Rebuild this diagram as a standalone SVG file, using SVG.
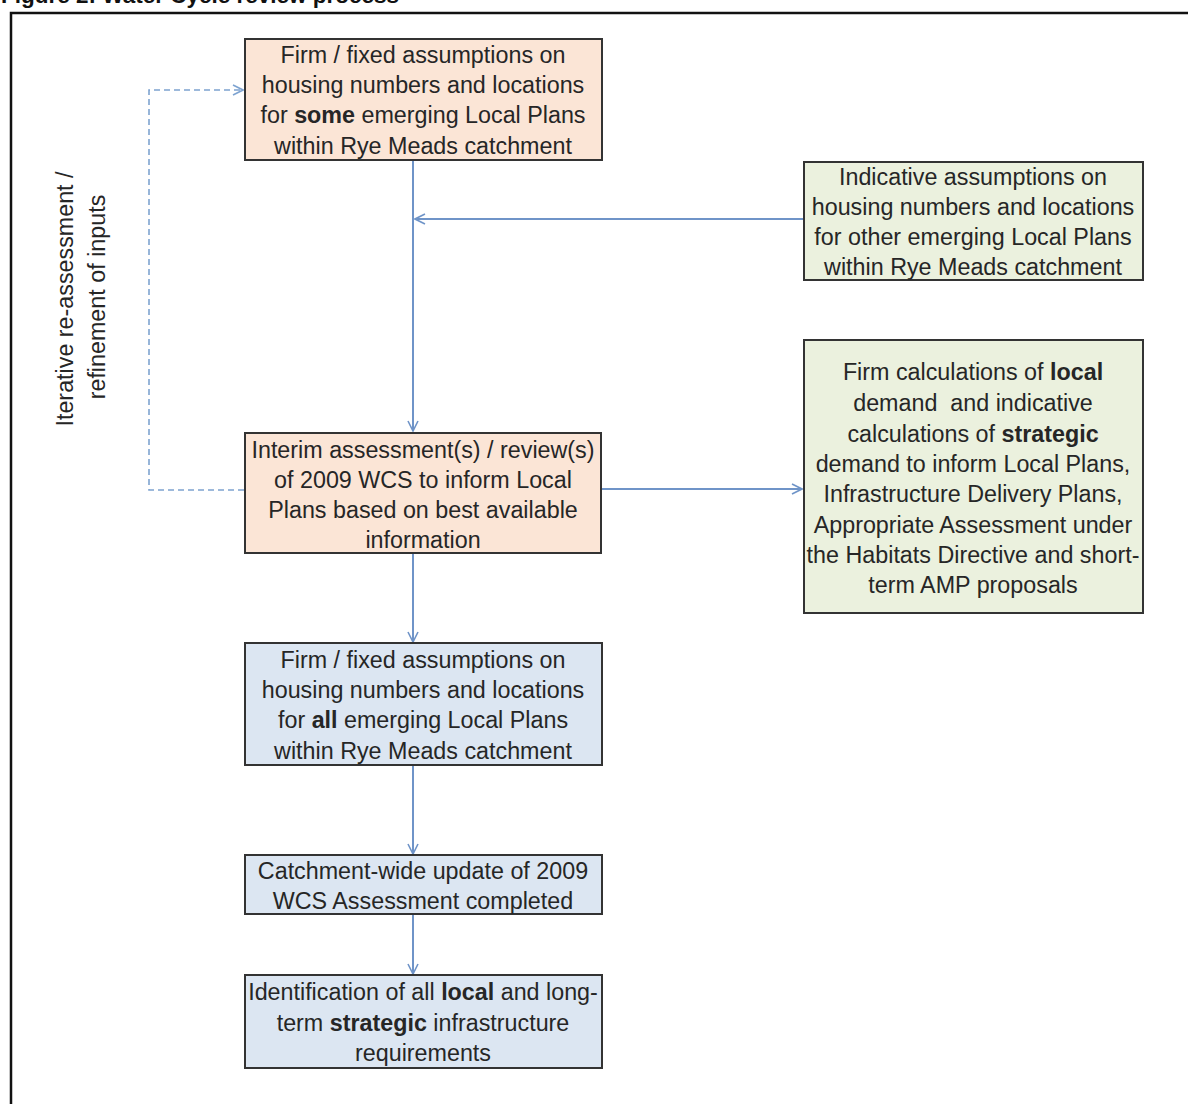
<svg xmlns="http://www.w3.org/2000/svg" width="1188" height="1104" viewBox="0 0 1188 1104">
<style>
.t{font-family:"Liberation Sans",Arial,sans-serif;font-size:23.3px;fill:#262626;text-anchor:middle}
.b{font-weight:bold}
.box{stroke:#333;stroke-width:2}
.or{fill:#fbe5d6}
.gr{fill:#ebf1de}
.bl{fill:#dce6f2}
.c{fill:none;stroke:#6f94c8;stroke-width:2}
.d{fill:none;stroke:#7ea3d0;stroke-width:1.6;stroke-dasharray:6,4}
</style>
<defs>
<marker id="ah" viewBox="0 0 12 12" refX="11" refY="6" markerWidth="12" markerHeight="12" markerUnits="userSpaceOnUse" orient="auto">
<path d="M1,1 L11,6 L1,11" fill="none" stroke="#6f94c8" stroke-width="1.6"/>
</marker>
<marker id="ahd" viewBox="0 0 12 12" refX="11" refY="6" markerWidth="12" markerHeight="12" markerUnits="userSpaceOnUse" orient="auto">
<path d="M1,1 L11,6 L1,11" fill="none" stroke="#7ea3d0" stroke-width="1.6"/>
</marker>
</defs>
<rect width="1188" height="1104" fill="#fff"/>
<text x="1" y="3" style="font-family:'Liberation Sans',Arial,sans-serif;font-size:22.5px;font-weight:bold;fill:#111">Figure 2: Water Cycle review process</text>
<path d="M11,1104 V13 H1188" fill="none" stroke="#111" stroke-width="2.5"/>

<g id="connectors">
<line class="c" x1="413" y1="161" x2="413" y2="431" marker-end="url(#ah)"/>
<line class="c" x1="804" y1="219" x2="415" y2="219" marker-end="url(#ah)"/>
<line class="c" x1="602" y1="489" x2="802" y2="489" marker-end="url(#ah)"/>
<line class="c" x1="413" y1="554" x2="413" y2="642" marker-end="url(#ah)"/>
<line class="c" x1="413" y1="766" x2="413" y2="854" marker-end="url(#ah)"/>
<line class="c" x1="413" y1="915" x2="413" y2="974" marker-end="url(#ah)"/>
<path class="d" d="M244,490 H149 V90 H243" marker-end="url(#ahd)"/>
</g>

<g id="label-iterative">
<text class="t" transform="translate(73,299) rotate(-90)">Iterative re-assessment /</text>
<text class="t" transform="translate(105,297) rotate(-90)">refinement of inputs</text>
</g>

<g id="n1">
<rect class="box or" x="245" y="39" width="357" height="121"/>
<text class="t" x="423" y="63">Firm / fixed assumptions on</text>
<text class="t" x="423" y="93">housing numbers and locations</text>
<text class="t" x="423" y="123">for <tspan class="b">some</tspan> emerging Local Plans</text>
<text class="t" x="423" y="154">within Rye Meads catchment</text>
</g>

<g id="n2">
<rect class="box gr" x="804" y="162" width="339" height="118"/>
<text class="t" x="973" y="185">Indicative assumptions on</text>
<text class="t" x="973" y="215">housing numbers and locations</text>
<text class="t" x="973" y="245">for other emerging Local Plans</text>
<text class="t" x="973" y="275">within Rye Meads catchment</text>
</g>

<g id="n3">
<rect class="box or" x="245" y="433" width="356" height="120"/>
<text class="t" x="423" y="458">Interim assessment(s) / review(s)</text>
<text class="t" x="423" y="488">of 2009 WCS to inform Local</text>
<text class="t" x="423" y="518">Plans based on best available</text>
<text class="t" x="423" y="548">information</text>
</g>

<g id="n4">
<rect class="box gr" x="804" y="340" width="339" height="273"/>
<text class="t" x="973" y="380">Firm calculations of <tspan class="b">local</tspan></text>
<text class="t" x="973" y="411" xml:space="preserve">demand  and indicative</text>
<text class="t" x="973" y="442">calculations of <tspan class="b">strategic</tspan></text>
<text class="t" x="973" y="472">demand to inform Local Plans,</text>
<text class="t" x="973" y="502">Infrastructure Delivery Plans,</text>
<text class="t" x="973" y="533">Appropriate Assessment under</text>
<text class="t" x="973" y="563">the Habitats Directive and short-</text>
<text class="t" x="973" y="593">term AMP proposals</text>
</g>

<g id="n5">
<rect class="box bl" x="245" y="643" width="357" height="122"/>
<text class="t" x="423" y="668">Firm / fixed assumptions on</text>
<text class="t" x="423" y="698">housing numbers and locations</text>
<text class="t" x="423" y="728">for <tspan class="b">all</tspan> emerging Local Plans</text>
<text class="t" x="423" y="759">within Rye Meads catchment</text>
</g>

<g id="n6">
<rect class="box bl" x="245" y="855" width="357" height="59"/>
<text class="t" x="423" y="879">Catchment-wide update of 2009</text>
<text class="t" x="423" y="909">WCS Assessment completed</text>
</g>

<g id="n7">
<rect class="box bl" x="245" y="975" width="357" height="93"/>
<text class="t" x="423" y="1000">Identification of all <tspan class="b">local</tspan> and long-</text>
<text class="t" x="423" y="1031">term <tspan class="b">strategic</tspan> infrastructure</text>
<text class="t" x="423" y="1061">requirements</text>
</g>
</svg>
